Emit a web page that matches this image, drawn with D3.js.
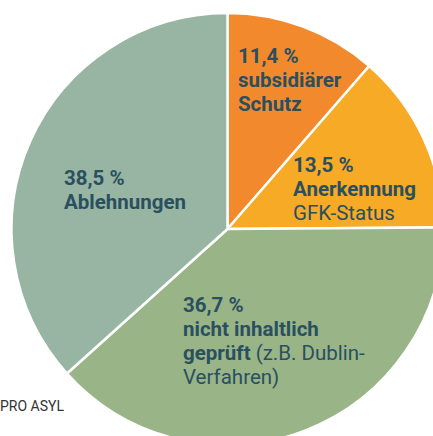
<!DOCTYPE html>
<html>
<head>
<meta charset="utf-8">
<script src="https://d3js.org/d3.v7.min.js"></script>
<style>
  body { margin: 0; background: #fff; }
  svg { display: block; }
  text { font-family: "Roboto", sans-serif; }
</style>
</head>
<body>
<div id="chart"></div>
<script>
// data
let categories = ["subsidiärer Schutz", "Anerkennung GFK-Status", "nicht inhaltlich geprüft", "Ablehnungen"]
// slice sizes as drawn in the original graphic (the two big slices are drawn swapped vs. their labels)
let values = [11.4, 13.5, 38.5, 36.7]
let colors = ["#f28a2d", "#f7aa26", "#99b588", "#97b5a2"]
let valueLabels = ["11,4 %", "13,5 %", "36,7 %", "38,5 %"]
// label lines: [text, bold] segments per line
let labelLines = [
    [[[valueLabels[0], true]], [["subsidiärer", true]], [["Schutz", true]]],
    [[[valueLabels[1], true]], [["Anerkennung", true]], [["GFK-Status", false]]],
    [[[valueLabels[2], true]], [["nicht inhaltlich", true]], [["geprüft", true], [" (z.B. Dublin-", false]], [["Verfahren)", false]]],
    [[[valueLabels[3], true]], [["Ablehnungen", true]]]
]
let labelPos = [[238, 63], [293, 172], [183, 312], [64, 185]]
let source = "PRO ASYL"

let width = 433, height = 436
let cx = 227.5, cy = 229, radius = 216

let svg = d3.select("#chart").append("svg")
    .attr("width", width)
    .attr("height", height)

let g = svg.append("g")
    .attr("transform", "translate(" + cx + "," + cy + ")")

let pie = d3.pie().sort(null).value(function(d) { return d })
let arc = d3.arc().innerRadius(0).outerRadius(radius)

g.selectAll("path")
    .data(pie(values))
    .enter()
    .append("path")
    .attr("d", arc)
    .attr("fill", function(d, i) { return colors[i] })
    .attr("stroke", "#fff")
    .attr("stroke-width", 2.5)
    .attr("stroke-linejoin", "round")

let lineHeight = 24
labelLines.forEach(function(lines, i) {
    let t = svg.append("text")
        .attr("x", labelPos[i][0])
        .attr("y", labelPos[i][1])
        .attr("fill", "#2a4f5f")
        .style("font-size", "20.5px")
    lines.forEach(function(segs, j) {
        segs.forEach(function(s, k) {
            let ts = t.append("tspan")
                .attr("font-weight", s[1] ? "bold" : "normal")
                .text(s[0])
            if (k == 0) {
                ts.attr("x", labelPos[i][0]).attr("y", labelPos[i][1] + j * lineHeight)
            }
        })
    })
})

svg.append("text")
    .attr("x", 0)
    .attr("y", 411)
    .attr("fill", "#333")
    .style("font-size", "14px")
    .text(source)
</script>
</body>
</html>
